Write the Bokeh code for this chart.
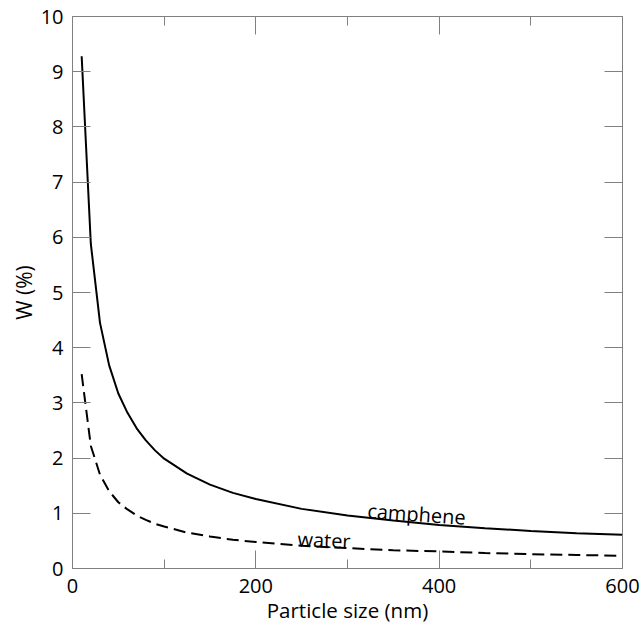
from bokeh.plotting import figure
from bokeh.models import LinearAxis, FixedTicker, Label, Range1d
from bokeh.embed import file_html
from bokeh.resources import INLINE

# Data
size_nm = [10, 20, 30, 40, 50, 60, 70, 80, 90, 100, 125, 150, 175, 200,
           250, 300, 350, 400, 450, 500, 550, 600]
w_camphene = [9.28, 5.88, 4.45, 3.68, 3.17, 2.82, 2.54, 2.32, 2.14, 1.99,
              1.72, 1.52, 1.37, 1.26, 1.08, 0.96, 0.87, 0.79, 0.73, 0.68,
              0.64, 0.61]
w_water = [3.52, 2.22, 1.70, 1.40, 1.20, 1.07, 0.96, 0.88, 0.81, 0.76,
           0.65, 0.58, 0.52, 0.48, 0.41, 0.37, 0.33, 0.31, 0.28, 0.26,
           0.245, 0.23]
x_major_ticks = [0, 200, 400, 600]
x_minor_ticks = [100, 300, 500]
y_major_ticks = [0, 1, 2, 3, 4, 5, 6, 7, 8, 9, 10]

FONT = "Open Sans"
GRAY = "#808080"

p = figure(frame_width=550, frame_height=552,
           x_range=Range1d(0, 600), y_range=Range1d(0, 10),
           output_backend="svg", toolbar_location=None,
           min_border_left=72, min_border_right=20,
           min_border_top=16, min_border_bottom=65,
           x_axis_location=None, y_axis_location=None)
p.xgrid.visible = False
p.ygrid.visible = False
p.outline_line_color = GRAY
p.outline_line_width = 1
p.background_fill_color = "white"
p.border_fill_color = "white"


def style_axis(ax, labels=True, long_in=18, short_in=9):
    ax.axis_line_color = GRAY
    ax.axis_line_width = 1
    ax.major_tick_line_color = GRAY
    ax.minor_tick_line_color = GRAY
    ax.major_tick_in = long_in
    ax.major_tick_out = 0
    ax.minor_tick_in = short_in
    ax.minor_tick_out = 0
    if labels:
        ax.major_label_text_font = FONT
        ax.major_label_text_font_size = "20px"
        ax.major_label_text_color = "black"
        ax.axis_label_text_font = FONT
        ax.axis_label_text_font_style = "normal"
        ax.axis_label_text_color = "black"
    else:
        ax.major_label_text_font_size = "0px"
        ax.major_label_text_color = None
        ax.major_label_standoff = 0


xticker = FixedTicker(ticks=x_major_ticks, minor_ticks=x_minor_ticks)
yticker = FixedTicker(ticks=y_major_ticks, minor_ticks=[])

xb = LinearAxis(ticker=xticker, axis_label="Particle size (nm)")
style_axis(xb)
xb.major_label_standoff = 10
xb.axis_label_text_font_size = "20.5px"
xb.axis_label_standoff = 0
p.add_layout(xb, "below")

xt = LinearAxis(ticker=FixedTicker(ticks=x_major_ticks, minor_ticks=x_minor_ticks))
style_axis(xt, labels=False)
p.add_layout(xt, "above")

yl = LinearAxis(ticker=yticker, axis_label="W (%)")
style_axis(yl)
yl.major_label_standoff = 9
yl.axis_label_text_font_size = "21px"
yl.axis_label_standoff = 0
p.add_layout(yl, "left")

yr = LinearAxis(ticker=FixedTicker(ticks=y_major_ticks, minor_ticks=[]))
style_axis(yr, labels=False)
p.add_layout(yr, "right")

p.line(size_nm, w_camphene, line_color="black", line_width=2)
p.line(size_nm, w_water, line_color="black", line_width=2, line_dash="12 6")

p.add_layout(Label(x=321.8, y=1.05, text="camphene", angle=-0.07,
                   text_font=FONT, text_font_size="20px", text_color="black",
                   text_align="left", text_baseline="alphabetic"))
p.add_layout(Label(x=245.5, y=0.54, text="water", angle=-0.045,
                   text_font=FONT, text_font_size="20px", text_color="black",
                   text_align="left", text_baseline="alphabetic"))

open("out.html", "w").write(file_html(p, INLINE))
